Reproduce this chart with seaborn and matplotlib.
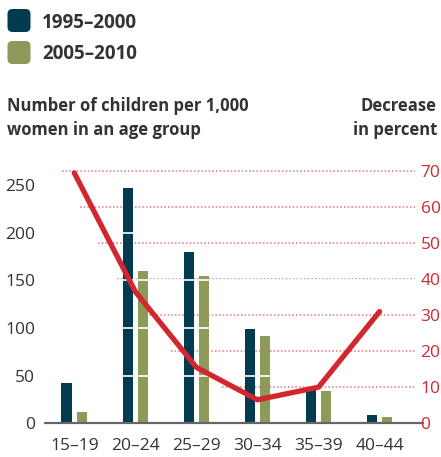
import numpy as np
import pandas as pd
import matplotlib.pyplot as plt
from matplotlib.patches import FancyBboxPatch
import seaborn as sns

sns.set_theme(style="white")
plt.rcParams["font.family"] = ["Open Sans", "DejaVu Sans"]

# ── Data ─────────────────────────────────────────────────────────────────────
age_groups = ["15–19", "20–24", "25–29", "30–34", "35–39", "40–44"]
periods = ["1995–2000", "2005–2010"]
births_1995 = [42, 247, 180, 99, 37, 9]
births_2005 = [12, 160, 154, 92, 34, 6]
decrease_pct = [69.5, 36.5, 15.5, 6.5, 10, 31]

left_ticks = [0, 50, 100, 150, 200, 250]
right_ticks = [0, 10, 20, 30, 40, 50, 60, 70]

dark = "#003b4f"
green = "#8d9a5a"
red = "#d22630"
grid_red = "#e7767a"
text_col = "#333333"

df = pd.DataFrame({
    "age": age_groups * 2,
    "period": [periods[0]] * len(age_groups) + [periods[1]] * len(age_groups),
    "births": births_1995 + births_2005,
})

# ── Figure ───────────────────────────────────────────────────────────────────
fig = plt.figure(figsize=(4.41, 4.57), dpi=100)
ax = fig.add_axes([0.102, 0.074, 0.839, 0.565])
ax2 = ax.twinx()

left_top = 271
right_top = 71.7
scale = left_top / right_top
x_lo, x_hi = -0.48, 5.58

sns.barplot(data=df, x="age", y="births", hue="period", palette=[dark, green],
            width=0.5, gap=0.32, saturation=1, legend=False, linewidth=0,
            ax=ax, zorder=1)

# red dotted gridlines for the right axis, starting just left of the line
desc_y = np.array(decrease_pct[:4])[::-1]
desc_x = np.arange(4)[::-1]
for v in right_ticks[1:]:
    x0 = np.interp(v, desc_y, desc_x) - 0.2
    ax.hlines(v * scale, x0, x_hi, color=grid_red, lw=1.1,
              linestyles=(0, (1, 1.4)), zorder=0.5)

# white lines through the bars
for v in left_ticks[1:]:
    ax.axhline(v, color="white", lw=1.2, zorder=2)

ax.axhline(0, xmax=1.022, color="#666666", lw=1.6, zorder=3, clip_on=False)

sns.lineplot(x=np.arange(len(age_groups)), y=decrease_pct, ax=ax2, color=red,
             lw=3.8, solid_capstyle="round", solid_joinstyle="round")

ax.set_xlim(x_lo, x_hi)
ax.set_ylim(0, left_top)
ax2.set_ylim(0, right_top)

ax.set_yticks(left_ticks)
ax2.set_yticks(right_ticks)
ax.set_xlabel("")
ax.set_ylabel("")
ax2.set_ylabel("")
ax.tick_params(axis="y", length=0, pad=7, labelsize=12.5, labelcolor=text_col)
ax.tick_params(axis="x", length=0, pad=11, labelsize=12.5, labelcolor=text_col)
ax2.tick_params(axis="y", length=0, pad=4, labelsize=12.5, labelcolor=red)
for a in (ax, ax2):
    a.grid(False)
    for s in a.spines.values():
        s.set_visible(False)
ax.patch.set_alpha(0)

# ── Axis titles ──────────────────────────────────────────────────────────────
H = 457
fig.text(7 / 441, 1 - 111 / H, "Number of children per 1,000", fontsize=12,
         fontweight="bold", color=text_col, va="baseline")
fig.text(7 / 441, 1 - 135 / H, "women in an age group", fontsize=12,
         fontweight="bold", color=text_col, va="baseline")
fig.text(437 / 441, 1 - 111 / H, "Decrease", fontsize=12, fontweight="bold",
         color=text_col, va="baseline", ha="right")
fig.text(437 / 441, 1 - 135 / H, "in percent", fontsize=12, fontweight="bold",
         color=text_col, va="baseline", ha="right")

# ── Legend ───────────────────────────────────────────────────────────────────
for i, (lab, col) in enumerate(zip(periods, [dark, green])):
    top = 9 + i * 32
    box = FancyBboxPatch((0.075, (H - top - 23) / 100), 0.23, 0.23,
                         boxstyle="round,pad=0,rounding_size=0.05",
                         transform=fig.dpi_scale_trans, facecolor=col,
                         edgecolor="none")
    fig.add_artist(box)
    fig.text(42 / 441, 1 - (28 + i * 31) / H, lab, fontsize=13.5,
             fontweight="bold", color=text_col, va="baseline")

fig.savefig("out.png", dpi=100)
